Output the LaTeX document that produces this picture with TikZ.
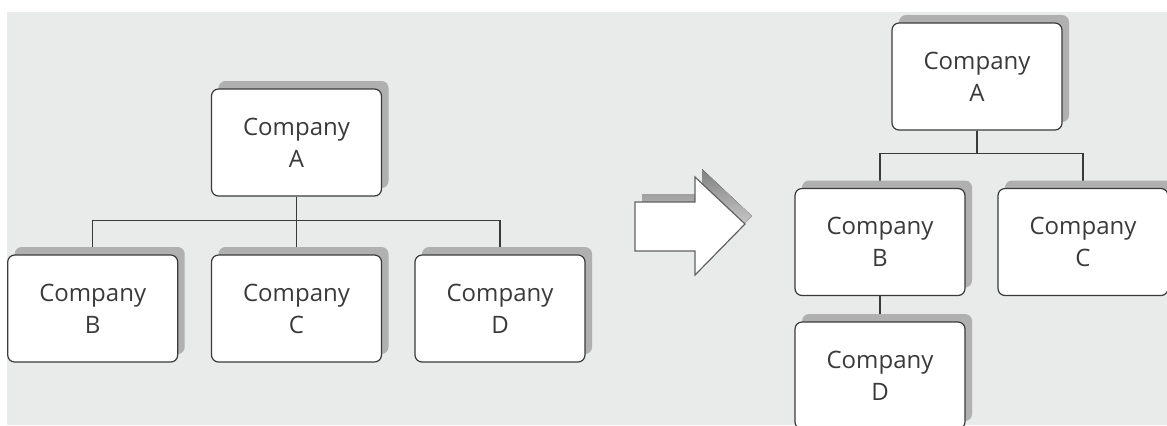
\documentclass[tikz,border=0pt]{standalone}
\usepackage{fontspec}
\setmainfont{Open Sans}
\usetikzlibrary{shadows}
\definecolor{panel}{RGB}{233,235,234}
\definecolor{shade}{RGB}{176,176,176}
\definecolor{ink}{RGB}{58,58,58}
\pgfdeclarelayer{back}
\pgfdeclarelayer{wires}
\pgfsetlayers{back,wires,main}

\begin{document}
\begin{tikzpicture}[x=0.5pt, y=-0.5pt,
    company/.style={draw=ink, fill=white, rounded corners=3.5pt, line width=0.6pt,
      minimum width=85pt, minimum height=53.5pt, align=center, text=ink,
      font=\fontsize{12}{16}\selectfont,
      general shadow={fill=shade, shadow xshift=3.5pt, shadow yshift=4pt}},
    wire/.style={draw=ink, line width=0.6pt}]
        \useasboundingbox (0,0) rectangle (1167,425);
        \begin{pgfonlayer}{back}
          \fill[panel] (7,12) rectangle (1167,425);
        \end{pgfonlayer}

        % before: A owns B, C and D
        \node[company] (a1) at (296.5,142.5) {Company\\A};
        \node[company] (b1) at (92.7,308.5) {Company\\B};
        \node[company] (c1) at (296.5,308.5) {Company\\C};
        \node[company] (d1) at (500,308.5) {Company\\D};

        % after: D moves under B
        \node[company] (a2) at (977,76.5) {Company\\A};
        \node[company] (b2) at (880,242) {Company\\B};
        \node[company] (c2) at (1083,242) {Company\\C};
        \node[company] (d2) at (880,375.5) {Company\\D};

        % big arrow in between
        \fill[shade, shift={(7,-8)}] (635,202) -- (695,202) -- (695,177) -- (745,224)
          -- (695,275) -- (695,251) -- (635,251) -- cycle;
        \draw[draw=ink!80, fill=white, line width=0.6pt] (635,202) -- (695,202) -- (695,177)
          -- (745,224) -- (695,275) -- (695,251) -- (635,251) -- cycle;

        % the lines go behind the boxes
        \begin{pgfonlayer}{wires}
          \draw[wire] (a1.south) -- ++(0,24) -| (b1.north);
          \draw[wire] (a1.south) -- (c1.north);
          \draw[wire] (a1.south) -- ++(0,24) -| (d1.north);
          \draw[wire] (a2.south) -- ++(0,23) -| (b2.north);
          \draw[wire] (a2.south) -- ++(0,23) -| (c2.north);
          \draw[wire] (b2.south) -- (d2.north);
        \end{pgfonlayer}
    \end{tikzpicture}
\end{document}
